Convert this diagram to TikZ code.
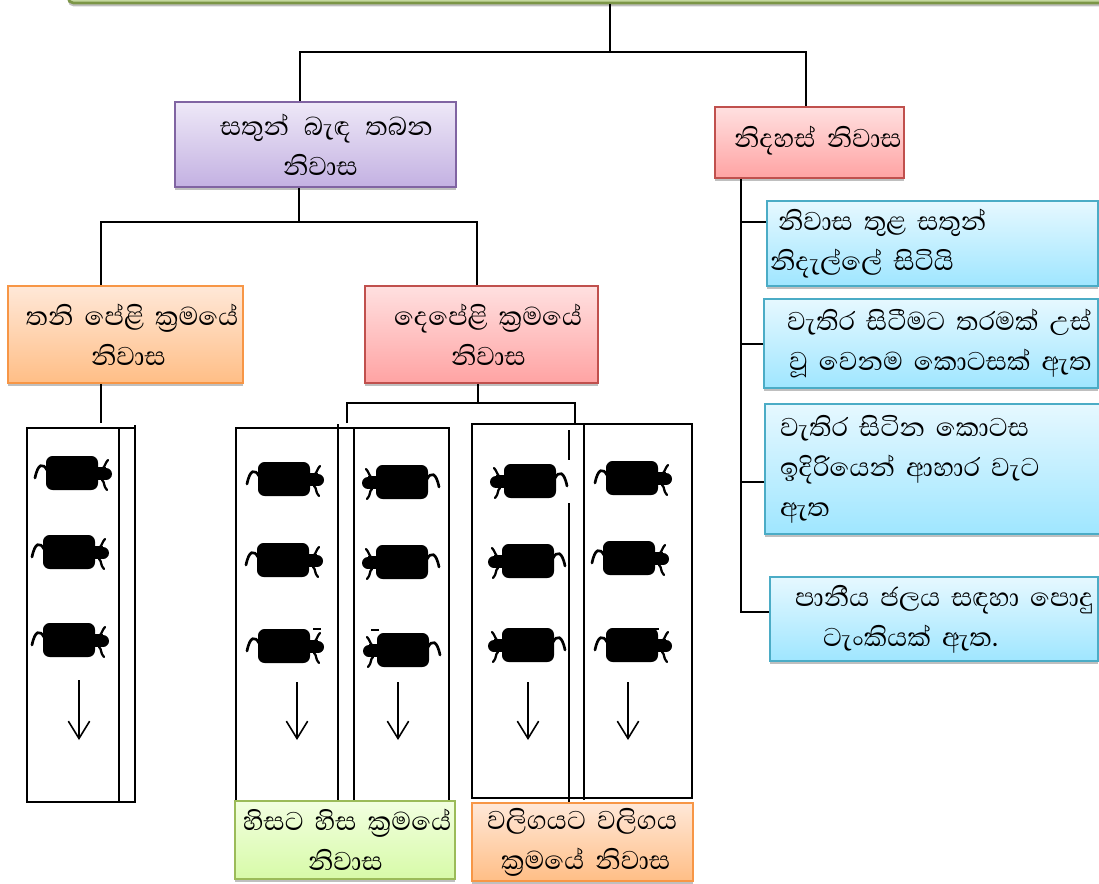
\documentclass[tikz,border=0pt]{standalone}
\usepackage{fontspec}
\usetikzlibrary{shadows,arrows.meta}
\newfontfamily\sinhalafont[Script=Sinhala]{Abhaya Libre}
\newlength{\pxu}
\setlength{\pxu}{0.75pt}
\definecolor{purpleline}{HTML}{8064A2}
\definecolor{purpletop}{HTML}{EEE8F7}
\definecolor{purplelow}{HTML}{C3B1E2}
\definecolor{redline}{HTML}{C0504D}
\definecolor{redtop}{HTML}{FFE0E0}
\definecolor{redlow}{HTML}{FFA3A3}
\definecolor{orangeline}{HTML}{F79646}
\definecolor{orangetop}{HTML}{FFE8D8}
\definecolor{orangelow}{HTML}{FFBE86}
\definecolor{blueline}{HTML}{4BACC6}
\definecolor{bluetop}{HTML}{E6F8FF}
\definecolor{bluelow}{HTML}{9FE6FF}
\definecolor{greenline}{HTML}{9BBB59}
\definecolor{greentop}{HTML}{F2FFE0}
\definecolor{greenlow}{HTML}{D7FAA8}
\tikzset{
  box/.style={rectangle,draw,line width=1.5pt,inner xsep=1pt,inner ysep=0pt,text=black,align=left,
    font=\sinhalafont\fontsize{24.8pt}{30pt}\selectfont,
    drop shadow={shadow xshift=0pt,shadow yshift=-2.5pt,opacity=.5}},
  purplebox/.style={box,draw=purpleline,top color=purpletop,bottom color=purplelow},
  redbox/.style={box,draw=redline,top color=redtop,bottom color=redlow},
  orangebox/.style={box,draw=orangeline,top color=orangetop,bottom color=orangelow},
  bluebox/.style={box,draw=blueline,top color=bluetop,bottom color=bluelow},
  greenbox/.style={box,draw=greenline,top color=greentop,bottom color=greenlow},
  link/.style={line width=1.1pt},
  penline/.style={line width=1.1pt},
  downarrow/.style={line width=1.2pt,-{Straight Barb[length=13pt,width=16pt]}},
  pig/.pic={
    \fill[rounded corners=5pt] (-26,-17) rectangle (26,17);
    \fill (24,-6) rectangle (34,7);
    \fill (34,1) circle [radius=6];
    \draw[line width=2pt,line cap=round] (-25,-3) .. controls (-29,-10) and (-34,-10) .. (-37,5);
    \draw[line width=1.7pt,line cap=round] (30,-4) .. controls (33,-6) and (33,-10) .. (36,-13);
    \draw[line width=1.7pt,line cap=round] (30,7) .. controls (33,9) and (31,13) .. (35,17);
  }
}
\begin{document}
\begin{tikzpicture}[x=0.75pt,y=-0.75pt]
        \useasboundingbox (0,0) rectangle (1099,884);

        % pens
        \draw[penline] (27,428) rectangle (135,802);
        \draw[penline] (119,428) -- (119,802);
        \draw[penline] (135,425) -- (135,428);
        \draw[penline] (236,800) -- (236,428) -- (449,428) -- (449,800);
        \draw[penline] (338,424) -- (338,800);
        \draw[penline] (354,428) -- (354,800);
        \draw[penline] (472,424) rectangle (692,798);
        \draw[penline] (569,430) -- (569,460);
        \draw[penline] (569,503) -- (569,803);
        \draw[penline] (584,424) -- (584,800);

        % animals
        \pic at (72,473) {pig};
        \pic at (69,552) {pig};
        \pic at (69,640) {pig};
        \pic at (284,479) {pig};
        \pic at (283,560) {pig};
        \pic at (284,646) {pig};
        \pic[xscale=-1] at (402,482) {pig};
        \pic[xscale=-1] at (402,562) {pig};
        \pic[xscale=-1] at (403,650) {pig};
        \pic[xscale=-1] at (530,481) {pig};
        \pic[xscale=-1] at (528,561) {pig};
        \pic[xscale=-1] at (528,645) {pig};
        \pic at (632,478) {pig};
        \pic at (629,558) {pig};
        \pic at (632,645) {pig};

        % bits over the third row
        \draw[line width=1pt] (313,629) -- (321,629);
        \draw[line width=1pt] (371,630) -- (379,630);
        \draw[line width=1pt] (651,629) -- (659,629);

        % boxes
        \node (topbar) [box,draw=greenline!80!black,top color=greenline!30,bottom color=greenline!60,rounded corners=4pt,minimum width=1070\pxu,minimum height=40\pxu,line width=2pt] at (603,-17) {};
        \node (tied) [purplebox,minimum width=281\pxu,minimum height=85\pxu,text width=275\pxu] at (315.5,144.5) {\hspace*{42\pxu}සතුන්\hspace{4\pxu} බැඳ\hspace{4\pxu} තබන\\\hspace*{105\pxu}නිවාස};
        \node (free) [redbox,minimum width=189\pxu,minimum height=71\pxu,text width=183\pxu] at (809.5,142.5) {\raisebox{9pt}{\hspace*{16\pxu}නිදහස් නිවාස}};
        \node (single) [orangebox,minimum width=235\pxu,minimum height=97\pxu,text width=229\pxu] at (125.5,334.5) {\hspace*{15\pxu}තනි පේළි ක්‍රමයේ\\\hspace*{80\pxu}නිවාස};
        \node (double) [redbox,minimum width=233\pxu,minimum height=97\pxu,text width=227\pxu] at (481.5,334.5) {\hspace*{26\pxu}දෙපේළි ක්‍රමයේ\\\hspace*{83\pxu}නිවාස};
        \node (info1) [bluebox,minimum width=331\pxu,minimum height=85\pxu,text width=325\pxu] at (932.5,243.5) {\hspace*{8\pxu}නිවාස තුළ සතුන්\\නිදැල්ලේ සිටියි};
        \node (info2) [bluebox,minimum width=334\pxu,minimum height=89\pxu,text width=328\pxu] at (931,343.5) {\hspace*{20\pxu}වැතිර සිටීමට තරමක් උස්\\\hspace*{22\pxu}වූ වෙනම කොටසක් ඇත};
        \node (info3) [bluebox,minimum width=336\pxu,minimum height=130\pxu,text width=330\pxu] at (933,469) {\hspace*{12\pxu}වැතිර සිටින කොටස\\\hspace*{12\pxu}ඉදිරියෙන් ආහාර වැට\\\hspace*{12\pxu}ඇත};
        \node (info4) [bluebox,minimum width=328\pxu,minimum height=84\pxu,text width=322\pxu] at (934,619) {\hspace*{22\pxu}පානීය ජලය සඳහා පොදු\\\hspace*{50\pxu}ටැංකියක් ඇත.};
        \node (headtohead) [greenbox,minimum width=220\pxu,minimum height=78\pxu,text width=214\pxu] at (345,840) {\hspace*{5\pxu}හිසට හිස ක්‍රමයේ\\\hspace*{70\pxu}නිවාස};
        \node (tailtotail) [orangebox,minimum width=221\pxu,minimum height=78\pxu,text width=215\pxu] at (582.5,842) {\hspace*{12\pxu}වලිගයට වලිගය\\\hspace*{26\pxu}ක්‍රමයේ නිවාස};

        % junctions
        \coordinate (j0) at (610,52);
        \coordinate (j1) at (300,52);
        \coordinate (j2) at (806,52);
        \coordinate (j3) at (299,222);
        \coordinate (j4) at (101,222);
        \coordinate (j5) at (477,222);
        \coordinate (j6) at (101,423);
        \coordinate (j7) at (478,403);
        \coordinate (j8) at (347,403);
        \coordinate (j9) at (575,403);
        \coordinate (j10) at (347,423);
        \coordinate (j11) at (575,423);
        \coordinate (j12) at (741,612);

        \draw[link] (topbar.south -| j0) -- (j0);
        \draw[link] (tied.north -| j1) -- (j1) -- (j2) -- (free.north -| j2);
        \draw[link] (tied.south -| j3) -- (j3);
        \draw[link] (single.north -| j4) -- (j4) -- (j5) -- (double.north -| j5);
        \draw[link] (single.south -| j6) -- (j6);
        \draw[link] (double.south -| j7) -- (j7);
        \draw[link] (j10) -- (j8) -- (j9) -- (j11);
        \draw[link] (free.south -| j12) -- (j12) -- (j12 -| info4.west);
        \draw[link] (info1.west |- 0,222) -- (741,222);
        \draw[link] (info2.west |- 0,344) -- (741,344);
        \draw[link] (info3.west |- 0,482) -- (741,482);

        % arrows
        \coordinate (a1) at (79,680);
        \coordinate (b1) at (79,740);
        \coordinate (a2) at (297,682);
        \coordinate (b2) at (297,740);
        \coordinate (a3) at (398,682);
        \coordinate (b3) at (398,740);
        \coordinate (a4) at (528,682);
        \coordinate (b4) at (528,740);
        \coordinate (a5) at (628,682);
        \coordinate (b5) at (628,740);
        \draw[downarrow] (a1) -- (b1);
        \draw[downarrow] (a2) -- (b2);
        \draw[downarrow] (a3) -- (b3);
        \draw[downarrow] (a4) -- (b4);
        \draw[downarrow] (a5) -- (b5);
\end{tikzpicture}
\end{document}
